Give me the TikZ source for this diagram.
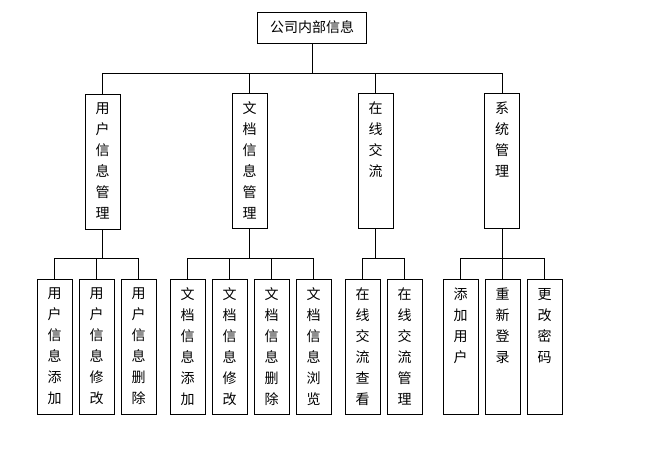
\documentclass[tikz,border=0pt]{standalone}
\usepackage{fontspec}
\setmainfont{Noto Sans CJK SC}
\newcommand\vcol[1]{\parbox[c][117pt][t]{20pt}{\centering #1}}
\begin{document}
\begin{tikzpicture}[x=1pt, y=-1pt, line width=0.8pt,
  box/.style={draw=black, inner sep=0pt, font=\fontsize{14}{21}\selectfont},
  col/.style={box, minimum width=35pt, minimum height=135pt}]
\useasboundingbox (0, 0) rectangle (654, 465);

\node[box, minimum width=109pt, minimum height=31pt] (info) at (312, 27.5) {公司内部信息};

\node[col] (user) at (102.5, 161.5) {\vcol{用\\户\\信\\息\\管\\理}};
\node[col] (doc) at (249.5, 160.5) {\vcol{文\\档\\信\\息\\管\\理}};
\node[col] (chat) at (375.5, 160.5) {\vcol{在\\线\\交\\流}};
\node[col] (sys) at (502, 160.5) {\vcol{系\\统\\管\\理}};

\node[col] (user-1) at (54.5, 346.5) {\vcol{用\\户\\信\\息\\添\\加}};
\node[col] (user-2) at (96.5, 346.5) {\vcol{用\\户\\信\\息\\修\\改}};
\node[col] (user-3) at (138.5, 346.5) {\vcol{用\\户\\信\\息\\删\\除}};
\node[col] (doc-1) at (187.5, 346.5) {\vcol{文\\档\\信\\息\\添\\加}};
\node[col] (doc-2) at (229.5, 346.5) {\vcol{文\\档\\信\\息\\修\\改}};
\node[col] (doc-3) at (271.5, 346.5) {\vcol{文\\档\\信\\息\\删\\除}};
\node[col] (doc-4) at (313.5, 346.5) {\vcol{文\\档\\信\\息\\浏\\览}};
\node[col] (chat-1) at (362.5, 346.5) {\vcol{在\\线\\交\\流\\查\\看}};
\node[col] (chat-2) at (404.5, 346.5) {\vcol{在\\线\\交\\流\\管\\理}};
\node[col] (sys-1) at (460.5, 346.5) {\vcol{添\\加\\用\\户}};
\node[col] (sys-2) at (502.5, 346.5) {\vcol{重\\新\\登\\录}};
\node[col] (sys-3) at (544.5, 346.5) {\vcol{更\\改\\密\\码}};

\coordinate (bus) at (info.south |- 0, 73);
\foreach \c in {user, doc, chat, sys}
  \draw (info.south) -- (bus) -| (\c.north);

\foreach \p/\n in {user/3, doc/4, chat/2, sys/3}
  \foreach \i in {1, ..., \n}
    \draw (\p.south) -- (\p.south |- 0, 258) -| (\p-\i.north);
\end{tikzpicture}
\end{document}
